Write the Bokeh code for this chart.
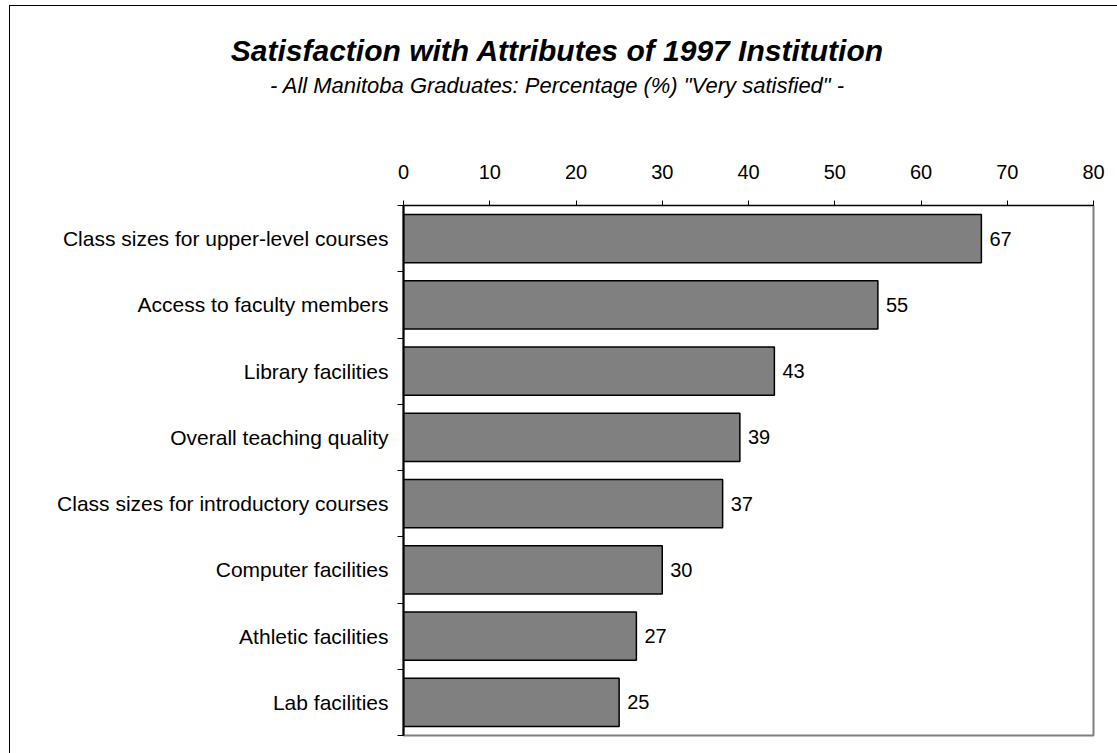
from bokeh.plotting import figure
from bokeh.layouts import column
from bokeh.models import (Range1d, FixedTicker, SingleIntervalTicker, CustomJSTickFormatter,
                          ColumnDataSource)
from bokeh.core.properties import value
from bokeh.embed import file_html
from bokeh.resources import INLINE

title_text = "Satisfaction with Attributes of 1997 Institution"
subtitle_text = '- All Manitoba Graduates: Percentage (%) "Very satisfied" -'

categories = [
    "Class sizes for upper-level courses",
    "Access to faculty members",
    "Library facilities",
    "Overall teaching quality",
    "Class sizes for introductory courses",
    "Computer facilities",
    "Athletic facilities",
    "Lab facilities",
]
values = [67, 55, 43, 39, 37, 30, 27, 25]
x_min, x_max, x_step = 0, 80, 10

FONT = "Liberation Sans"
n = len(categories)
pos = [i + 0.5 for i in range(n)]
src = ColumnDataSource(dict(y=pos, v=values, lab=[str(v) for v in values]))

# page geometry (canvas starts at page x=10, y=6 because of padding + 1px border)
OX, OY = 10, 6
W = 1107
HEAD_H = 110
MAIN_H = 637
FR_LEFT_PAGE, FR_TOP_PAGE, FR_W, FR_H = 403, 205, 690, 530

# ---- header with title and subtitle ----
head = figure(width=W, height=HEAD_H, output_backend="svg", toolbar_location=None,
              x_axis_location=None, y_axis_location=None,
              x_range=Range1d(0, W), y_range=Range1d(HEAD_H, 0),
              min_border=0, min_border_left=0, min_border_right=0,
              min_border_top=0, min_border_bottom=0)
head.frame_align = False
head.grid.visible = False
head.outline_line_color = None
head.background_fill_color = "white"
head.border_fill_color = "white"
cx = 557 - OX
head.text(x=[cx], y=[50 - OY], text=[title_text], text_align="center", text_baseline="middle",
          text_font=value(FONT), text_font_size="30px", text_font_style="bold italic",
          text_color="black")
head.text(x=[cx], y=[85 - OY], text=[subtitle_text], text_align="center", text_baseline="middle",
          text_font=value(FONT), text_font_size="22px", text_font_style="italic",
          text_color="black")

# ---- main chart ----
mb_left = FR_LEFT_PAGE - OX
mb_top = FR_TOP_PAGE - (OY + HEAD_H)
p = figure(width=W, height=MAIN_H, output_backend="svg", toolbar_location=None,
           x_axis_location="above",
           x_range=Range1d(x_min, x_max), y_range=Range1d(n, 0),
           min_border_left=mb_left, min_border_top=mb_top,
           min_border_right=W - mb_left - FR_W, min_border_bottom=MAIN_H - mb_top - FR_H)
p.frame_align = False

p.grid.visible = False
p.outline_line_color = "#808080"
p.outline_line_width = 2
p.background_fill_color = "white"
p.border_fill_color = "white"

p.hbar(y="y", right="v", left=0, height=0.73, source=src,
       fill_color="#808080", line_color="black", line_width=1.5)
p.text(x="v", y="y", text="lab", source=src, x_offset=8, text_baseline="middle",
       text_align="left", text_font=value(FONT), text_font_size="20px", text_color="black")

xa = p.xaxis[0]
xa.ticker = SingleIntervalTicker(interval=x_step, num_minor_ticks=0)
xa.major_tick_out = 5
xa.major_tick_in = 0
xa.minor_tick_out = 0
xa.minor_tick_in = 0
xa.axis_line_color = "black"
xa.axis_line_width = 1
xa.major_tick_line_color = "black"
xa.major_label_text_font = FONT
xa.major_label_text_font_size = "20px"
xa.major_label_text_color = "black"
xa.major_label_standoff = 22

ya = p.yaxis[0]
ya.ticker = FixedTicker(ticks=pos, minor_ticks=list(range(n + 1)))
ya.formatter = CustomJSTickFormatter(args=dict(names=categories),
                                     code="return names[Math.floor(tick)] || '';")
ya.major_tick_out = 0
ya.major_tick_in = 0
ya.minor_tick_out = 6
ya.minor_tick_in = 0
ya.minor_tick_line_color = "black"
ya.axis_line_color = "black"
ya.axis_line_width = 2
ya.major_label_text_font = FONT
ya.major_label_text_font_size = "21px"
ya.major_label_text_color = "black"
ya.major_label_standoff = 9

inner = column(head, p, spacing=0)
inner.styles = {"border-top": "1px solid black", "border-left": "1px solid black"}
layout = column(inner, spacing=0)
layout.styles = {"padding-left": "9px", "padding-top": "5px"}

open("out.html", "w").write(file_html(layout, INLINE))
